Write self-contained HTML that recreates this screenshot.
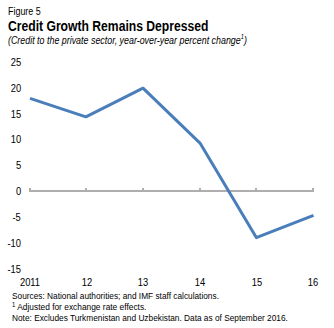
<!DOCTYPE html>
<html><head><meta charset="utf-8">
<style>
html,body{margin:0;padding:0;background:#fff;}
body{width:334px;height:328px;position:relative;overflow:hidden;font-family:"Liberation Sans",sans-serif;color:#000;}
.t{position:absolute;white-space:nowrap;line-height:1;transform-origin:0 0;}
.yl{position:absolute;right:313px;white-space:nowrap;line-height:1;font-size:11px;transform-origin:100% 50%;transform:scaleX(0.85);}
.xl{position:absolute;white-space:nowrap;line-height:1;font-size:11px;transform:translateX(-50%) scaleX(0.85);}
</style></head><body>
<div class="t" id="fig" style="left:8px;top:6px;font-size:10.5px;transform:scaleX(0.85)">Figure 5</div>
<div class="t" id="title" style="left:8px;top:19.5px;font-size:13.8px;font-weight:bold;transform:scaleX(0.88)">Credit Growth Remains Depressed</div>
<div class="t" id="sub" style="left:8px;top:36px;font-size:10.1px;font-style:italic;transform:scaleX(0.88)">(Credit to the private sector, year-over-year percent change<span style="font-size:6.5px;position:relative;top:-5px">1</span>)</div>

<div class="yl" style="top:57px">25</div>
<div class="yl" style="top:83px">20</div>
<div class="yl" style="top:108.5px">15</div>
<div class="yl" style="top:134.4px">10</div>
<div class="yl" style="top:160.2px">5</div>
<div class="yl" style="top:186px">0</div>
<div class="yl" style="top:212px">-5</div>
<div class="yl" style="top:237.8px">-10</div>
<div class="yl" style="top:263.7px">-15</div>

<svg style="position:absolute;left:0;top:0" width="334" height="328">
<path d="M29 191H314 M30 188V191 M86 188V191 M143 188V191 M200 188V191 M256 188V191 M313 188V191" stroke="#aeaeae" stroke-width="2" fill="none"/>
<polyline points="30,98.3 85.9,116.8 143,88.2 200,143.1 256.3,237.6 313.5,215.3" fill="none" stroke="#4a7ebb" stroke-width="3" stroke-linejoin="round"/>
</svg>

<div class="xl" style="left:30px;top:277px">2011</div>
<div class="xl" style="left:86.7px;top:277px">12</div>
<div class="xl" style="left:143px;top:277px">13</div>
<div class="xl" style="left:199.7px;top:277px">14</div>
<div class="xl" style="left:256.5px;top:277px">15</div>
<div class="xl" style="left:312.7px;top:277px">16</div>

<div class="t" id="f1" style="left:12px;top:292px;font-size:9px;transform:scaleX(0.922)">Sources: National authorities; and IMF staff calculations.</div>
<div class="t" id="f2" style="left:12px;top:303px;font-size:9px;transform:scaleX(0.93)"><span style="font-size:6.5px;position:relative;top:-3px">1</span> Adjusted for exchange rate effects.</div>
<div class="t" id="f3" style="left:12px;top:314px;font-size:9px;transform:scaleX(0.922)">Note: Excludes Turkmenistan and Uzbekistan. Data as of September 2016.</div>
</body></html>
